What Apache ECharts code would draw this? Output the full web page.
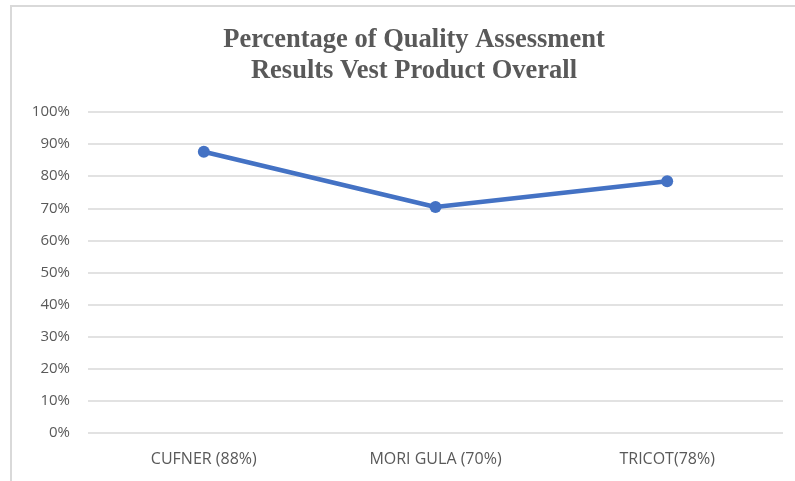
<!DOCTYPE html>
<html>
<head>
<meta charset="utf-8">
<style>
  html, body { margin: 0; padding: 0; background: #fff; }
  #chart { width: 795px; height: 481px; }
</style>
<script src="https://cdn.jsdelivr.net/npm/echarts@6/dist/echarts.min.js"></script>
</head>
<body>
<div id="chart"></div>
<script>
// data
const categories = ['CUFNER (88%)', 'MORI GULA (70%)', 'TRICOT(78%)'];
const scores = [87.6, 70.4, 78.4];

const chart = echarts.init(document.getElementById('chart'));

chart.setOption({
  backgroundColor: '#fff',
  animation: false,
  title: {
    text: 'Percentage of Quality Assessment\nResults Vest Product Overall',
    left: 409,
    textAlign: 'center',
    top: 20,
    textStyle: {
      fontFamily: 'Liberation Serif',
      fontWeight: 'bold',
      fontSize: 26.5,
      lineHeight: 31,
      color: '#595959'
    }
  },
  graphic: [
    {
      type: 'rect',
      shape: { x: 11, y: 6, width: 900, height: 600 },
      style: { fill: 'none', stroke: '#d9d9d9', lineWidth: 2 },
      z: -1
    }
  ],
  grid: { left: 88, right: 12, top: 112, bottom: 48 },
  xAxis: {
    type: 'category',
    data: categories,
    axisLine: { show: false },
    axisTick: { show: false },
    axisLabel: {
      color: '#595959',
      fontFamily: 'Liberation Sans Narrow, Open Sans',
      fontSize: 16,
      margin: 18
    }
  },
  yAxis: {
    type: 'value',
    min: 0,
    max: 100,
    interval: 10,
    axisLabel: {
      formatter: '{value}%',
      color: '#595959',
      fontFamily: 'Open Sans',
      fontSize: 15,
      margin: 18
    },
    splitLine: { lineStyle: { color: '#d9d9d9', width: 1.5 } }
  },
  series: [
    {
      type: 'line',
      data: scores,
      symbol: 'circle',
      symbolSize: 12,
      lineStyle: { color: '#4472c4', width: 4.5 },
      itemStyle: { color: '#4472c4' }
    }
  ]
});
</script>
</body>
</html>
